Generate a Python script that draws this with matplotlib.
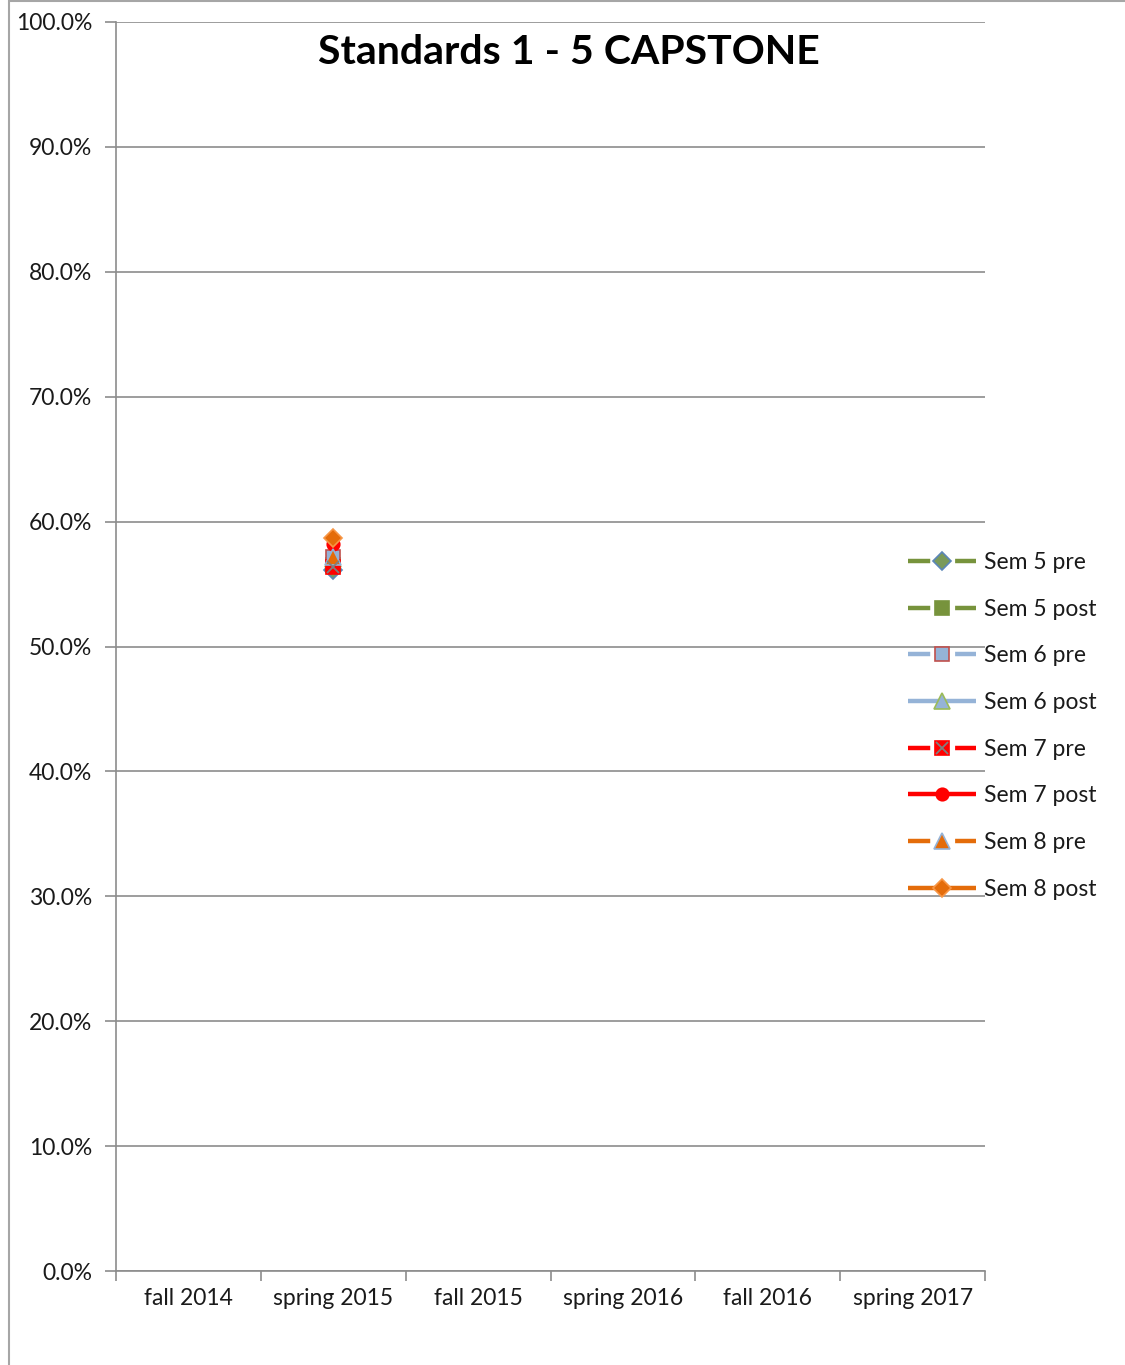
import numpy as np
import matplotlib
matplotlib.use("Agg")
import matplotlib.pyplot as plt
from matplotlib.patches import Rectangle
from matplotlib.legend_handler import HandlerTuple

plt.rcParams['font.family'] = ['Lato', 'DejaVu Sans']

# Data
categories = ["fall 2014", "spring 2015", "fall 2015", "spring 2016", "fall 2016", "spring 2017"]
series_names = ["Sem 5 pre", "Sem 5 post", "Sem 6 pre", "Sem 6 post",
                "Sem 7 pre", "Sem 7 post", "Sem 8 pre", "Sem 8 post"]
nan = np.nan
sem5_pre = [nan, 0.561, nan, nan, nan, nan]
sem5_post = [nan, 0.565, nan, nan, nan, nan]
sem6_pre = [nan, 0.572, nan, nan, nan, nan]
sem6_post = [nan, 0.570, nan, nan, nan, nan]
sem7_pre = [nan, 0.564, nan, nan, nan, nan]
sem7_post = [nan, 0.582, nan, nan, nan, nan]
sem8_pre = [nan, 0.572, nan, nan, nan, nan]
sem8_post = [nan, 0.587, nan, nan, nan, nan]
y_ticks = [0.0, 0.1, 0.2, 0.3, 0.4, 0.5, 0.6, 0.7, 0.8, 0.9, 1.0]

GREEN = '#77933C'
BLUE = '#95B3D7'
RED = '#FF0000'
ORANGE = '#E46C0A'

styles = [
    dict(color=GREEN, ls='dash', marker='D', mfc='#7A9A5A', mec='#5B86B8', ms=9),
    dict(color=GREEN, ls='dash', marker='s', mfc=GREEN, mec=GREEN, ms=10),
    dict(color=BLUE, ls='dash', marker='s', mfc=BLUE, mec='#C0504D', ms=10),
    dict(color=BLUE, ls='solid', marker='^', mfc=BLUE, mec='#9BBB59', ms=11),
    dict(color=RED, ls='dash', marker='s', mfc=RED, mec=RED, ms=10, xover=True),
    dict(color=RED, ls='solid', marker='o', mfc=RED, mec=RED, ms=9),
    dict(color=ORANGE, ls='dash', marker='^', mfc=ORANGE, mec=BLUE, ms=11),
    dict(color=ORANGE, ls='solid', marker='D', mfc=ORANGE, mec='#F79646', ms=9),
]
values = [sem5_pre, sem5_post, sem6_pre, sem6_post, sem7_pre, sem7_post, sem8_pre, sem8_post]

W, H = 1125, 1365
fig = plt.figure(figsize=(W / 100, H / 100), dpi=100)
ax = fig.add_axes([116 / W, 1 - 1271 / H, (985 - 116) / W, (1271 - 22) / H])

x = np.arange(len(categories))
handles = []
for name, vals, st in zip(series_names, values, styles):
    kw = dict(color=st['color'], lw=3.2, marker=st['marker'], markerfacecolor=st['mfc'],
              markeredgecolor=st['mec'], markersize=st['ms'], markeredgewidth=1.2)
    if st['ls'] == 'dash':
        kw['dashes'] = (5.0, 5.6)
        kw['dash_capstyle'] = 'butt'
    else:
        kw['solid_capstyle'] = 'butt'
    ln, = ax.plot(x, vals, label=name, zorder=3, **kw)
    if st.get('xover'):
        xl, = ax.plot(x, vals, ls='none', marker='x', markersize=st['ms'] - 1,
                      markeredgecolor='#7F7F7F', markeredgewidth=1.3, zorder=4)
        handles.append((ln, xl))
    else:
        handles.append(ln)

ax.set_xlim(-0.5, len(categories) - 0.5)
ax.set_ylim(0, 1.0)
ax.set_yticks(y_ticks)
ax.set_yticklabels([f"{v * 100:.1f}%" for v in y_ticks])
ax.set_xticks(x)
ax.set_xticklabels(categories)
ax.set_xticks(np.arange(-0.5, len(categories), 1.0), minor=True)
ax.tick_params(axis='x', which='major', length=0, pad=12, labelsize=16.5, labelcolor='#1a1a1a')
ax.tick_params(axis='x', which='minor', length=7, width=1.2, color='#8c8c8c', direction='out')
ax.tick_params(axis='y', length=8, width=1.2, color='#8c8c8c', pad=9, labelsize=16.5,
               labelcolor='#1a1a1a')

ax.grid(axis='y', color='#8c8c8c', lw=1.2, zorder=0)
ax.set_axisbelow(True)
for side in ['top', 'right']:
    ax.spines[side].set_visible(False)
for side in ['left', 'bottom']:
    ax.spines[side].set_color('#8c8c8c')
    ax.spines[side].set_linewidth(1.2)
ax.set_facecolor('none')

leg = fig.legend(handles, series_names, loc='upper left',
                 bbox_to_anchor=(908 / W, 1 - 552 / H), frameon=False,
                 fontsize=16.5, handlelength=2.95, handletextpad=0.35,
                 labelspacing=1.12, borderaxespad=0, borderpad=0,
                 handler_map={tuple: HandlerTuple(ndivide=1, pad=0)})
for t in leg.get_texts():
    t.set_color('#1a1a1a')

fig.text(569 / W, 1 - 52 / H, "Standards 1 - 5 CAPSTONE", ha='center', va='center',
         fontsize=29.5, fontweight='bold', color='#000000')

# Chart frame
fig.patches.append(Rectangle((9 / W, -0.01), 1.2, 1 - 1 / H + 0.01, transform=fig.transFigure,
                             fill=False, edgecolor='#a6a6a6', lw=1.5))

fig.savefig("out.png", dpi=100, facecolor='white')
